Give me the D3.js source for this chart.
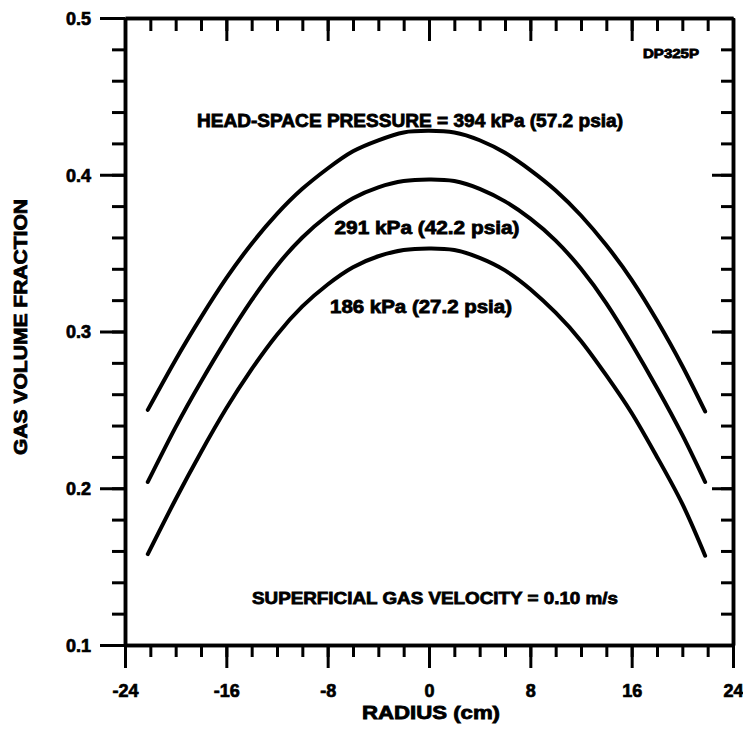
<!DOCTYPE html>
<html>
<head>
<meta charset="utf-8">
<script src="https://cdn.jsdelivr.net/npm/d3@7/dist/d3.min.js"></script>
<style>
  html, body { margin: 0; padding: 0; background: #fff; }
  svg { display: block; }
  text { font-family: "Liberation Sans", Arial, sans-serif; font-weight: bold; fill: #000; }
</style>
</head>
<body>
<svg id="chart" width="743" height="736"></svg>
<script>
// ---- data ----
const radius = [-22.2, -20, -18, -16, -14, -12, -10, -8, -6, -4, -2, 0, 2, 4, 6, 8, 10, 12, 14, 16, 18, 20, 21.8];
const gas394 = [0.250, 0.282, 0.309, 0.334, 0.356, 0.375, 0.391, 0.404, 0.415, 0.422, 0.427, 0.428, 0.427, 0.422, 0.414, 0.403, 0.390, 0.374, 0.355, 0.333, 0.307, 0.278, 0.249];
const gas291 = [0.204, 0.239, 0.268, 0.295, 0.320, 0.342, 0.360, 0.374, 0.385, 0.392, 0.396, 0.397, 0.396, 0.391, 0.383, 0.372, 0.358, 0.340, 0.318, 0.292, 0.264, 0.234, 0.204];
const gas186 = [0.158, 0.193, 0.223, 0.251, 0.276, 0.298, 0.316, 0.330, 0.341, 0.348, 0.352, 0.353, 0.352, 0.347, 0.339, 0.327, 0.312, 0.294, 0.272, 0.248, 0.220, 0.190, 0.157];
const seriesLabels = ["HEAD-SPACE PRESSURE = 394 kPa (57.2 psia)", "291 kPa (42.2 psia)", "186 kPa (27.2 psia)"];
const xTicks = [-24, -16, -8, 0, 8, 16, 24];
const yTicks = [0.1, 0.2, 0.3, 0.4, 0.5];
const xTitle = "RADIUS (cm)";
const yTitle = "GAS VOLUME FRACTION";
const noteText = "SUPERFICIAL GAS VELOCITY = 0.10 m/s";
const figId = "DP325P";

// ---- layout ----
const svg = d3.select("#chart");
const x = d3.scaleLinear().domain([-24, 24]).range([125, 733]);
const y = d3.scaleLinear().domain([0.1, 0.5]).range([645, 18]);
const xMinor = d3.range(-24, 24.001, 2);
const yMinor = d3.range(0.1, 0.5001, 0.02);

function styleAxis(g) {
  g.selectAll("path.domain").attr("stroke", "#000").attr("stroke-width", 3.5);
  g.selectAll(".tick line").attr("stroke", "#000").attr("stroke-width", 3);
}

// left axis (ticks outward)
const gl = svg.append("g").attr("transform", `translate(${x(-24)},0)`)
  .call(d3.axisLeft(y).tickValues(yMinor).tickSize(13).tickSizeOuter(0).tickFormat(""));
styleAxis(gl);
const gl2 = svg.append("g").attr("transform", `translate(${x(-24)},0)`)
  .call(d3.axisLeft(y).tickValues(yTicks).tickSize(25).tickSizeOuter(0).tickPadding(9).tickFormat(d3.format(".1f")));
styleAxis(gl2);
gl2.selectAll(".tick text").attr("font-size", 18).attr("dy", "0.36em");

// right axis (ticks pointing into plot)
const gr = svg.append("g").attr("transform", `translate(${x(24)},0)`)
  .call(d3.axisLeft(y).tickValues(yMinor).tickSize(12).tickSizeOuter(0).tickFormat(""));
styleAxis(gr);
const gr2 = svg.append("g").attr("transform", `translate(${x(24)},0)`)
  .call(d3.axisLeft(y).tickValues(yTicks).tickSize(21).tickSizeOuter(0).tickFormat(""));
styleAxis(gr2);

// top axis (ticks pointing down into plot)
const gt = svg.append("g").attr("transform", `translate(0,${y(0.5)})`)
  .call(d3.axisBottom(x).tickValues(xMinor).tickSize(13).tickSizeOuter(0).tickFormat(""));
styleAxis(gt);
const gt2 = svg.append("g").attr("transform", `translate(0,${y(0.5)})`)
  .call(d3.axisBottom(x).tickValues(xTicks).tickSize(23).tickSizeOuter(0).tickFormat(""));
styleAxis(gt2);

// bottom axis (ticks outward, down)
const gb = svg.append("g").attr("transform", `translate(0,${y(0.1)})`)
  .call(d3.axisBottom(x).tickValues(xMinor).tickSize(12).tickSizeOuter(0).tickFormat(""));
styleAxis(gb);
const gb2 = svg.append("g").attr("transform", `translate(0,${y(0.1)})`)
  .call(d3.axisBottom(x).tickValues(xTicks).tickSize(23).tickSizeOuter(0).tickPadding(16).tickFormat(d => String(d)));
styleAxis(gb2);
gb2.selectAll(".tick text").attr("font-size", 18).attr("dy", "0.71em");

svg.selectAll(".tick text")
  .attr("fill", "#000")
  .attr("font-family", '"Liberation Sans", Arial, sans-serif')
  .attr("font-weight", "bold")
  .attr("stroke", "#000").attr("stroke-width", 0.7);

// ---- curves ----
const series = [gas394, gas291, gas186];
const line = d3.line().x((d, i) => x(radius[i])).y(d => y(d)).curve(d3.curveNatural);
svg.append("g").selectAll("path").data(series).join("path")
  .attr("d", d => line(d))
  .attr("fill", "none").attr("stroke", "#000").attr("stroke-width", 4)
  .attr("stroke-linecap", "round").attr("stroke-linejoin", "round");

// ---- annotations ----
const notes = [
  { t: seriesLabels[0], cx: 410, by: 127, w: 426, fs: 18 },
  { t: seriesLabels[1], cx: 427, by: 234, w: 185, fs: 18 },
  { t: seriesLabels[2], cx: 421, by: 313, w: 182, fs: 18 },
  { t: noteText,        cx: 435, by: 604, w: 366, fs: 17 },
  { t: figId,           cx: 671, by: 58,  w: 56,  fs: 12 }
];
svg.append("g").selectAll("text").data(notes).join("text")
  .attr("x", d => d.cx).attr("y", d => d.by)
  .attr("text-anchor", "middle")
  .attr("font-size", d => d.fs)
  .attr("textLength", d => d.w)
  .attr("lengthAdjust", "spacingAndGlyphs")
  .attr("stroke", "#000").attr("stroke-width", 0.8)
  .text(d => d.t);

// axis titles
svg.append("text")
  .attr("x", 431).attr("y", 719)
  .attr("text-anchor", "middle").attr("font-size", 18)
  .attr("textLength", 138).attr("lengthAdjust", "spacingAndGlyphs")
  .attr("stroke", "#000").attr("stroke-width", 0.8)
  .text(xTitle);

svg.append("text")
  .attr("transform", "translate(27,327) rotate(-90)")
  .attr("text-anchor", "middle").attr("font-size", 18)
  .attr("textLength", 256).attr("lengthAdjust", "spacingAndGlyphs")
  .attr("stroke", "#000").attr("stroke-width", 0.8)
  .text(yTitle);
</script>
</body>
</html>
